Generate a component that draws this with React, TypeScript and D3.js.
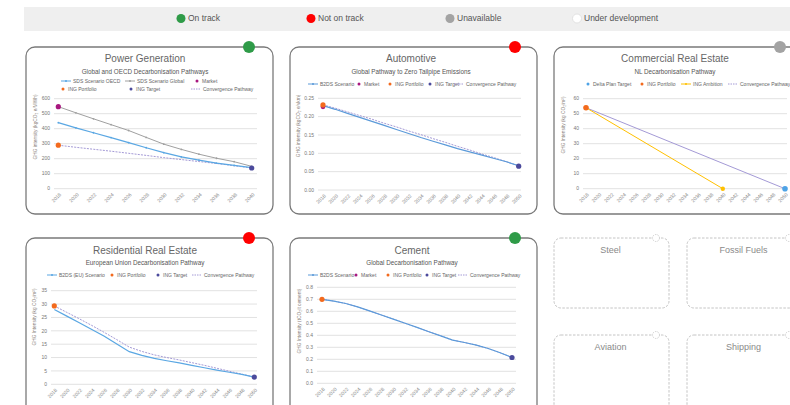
import React from 'react';
import * as d3 from 'd3';

const FONT = '"Liberation Sans Narrow", "Liberation Sans", Arial, sans-serif';

// ---------- Status legend ----------
const statusLabels = ['On track', 'Not on track', 'Unavailable', 'Under development'];
const statusColors = ['#2f9b48', '#ff0000', '#a3a3a3', '#ffffff'];

// ---------- Power Generation ----------
const powerYears = [2018, 2020, 2022, 2024, 2026, 2028, 2030, 2032, 2034, 2036, 2038, 2040];
const powerTicks = [0, 100, 200, 300, 400, 500, 600];
const powerSdsOecd = [440, 406, 373, 341, 307, 273, 240, 212, 191, 171, 155, 140];
const powerSdsGlobal = [547, 506, 466, 427, 388, 342, 297, 262, 230, 203, 180, 149];
const powerConvergence = [290, 276, 263, 250, 236, 222, 207, 194, 181, 168, 153, 138];
const powerMarket: [number, number][] = [[2018, 547]];
const powerPortfolio: [number, number][] = [[2018, 290]];
const powerTarget: [number, number][] = [[2040, 138]];

// ---------- Automotive ----------
const longYears = [2018, 2020, 2022, 2024, 2026, 2028, 2030, 2032, 2034, 2036, 2038, 2040, 2042, 2044, 2046, 2048, 2050];
const autoTicks = [0, 0.05, 0.1, 0.15, 0.2, 0.25];
const autoB2ds = [0.230, 0.220, 0.209, 0.198, 0.187, 0.176, 0.165, 0.154, 0.143, 0.133, 0.123, 0.113, 0.104, 0.095, 0.086, 0.077, 0.066];
const autoConvergence = [0.232, 0.223, 0.213, 0.203, 0.193, 0.182, 0.172, 0.161, 0.151, 0.140, 0.130, 0.119, 0.109, 0.098, 0.088, 0.077, 0.066];
const autoMarket: [number, number][] = [[2018, 0.227]];
const autoPortfolio: [number, number][] = [[2018, 0.232]];
const autoTarget: [number, number][] = [[2050, 0.065]];

// ---------- Commercial Real Estate ----------
const creTicks = [0, 10, 20, 30, 40, 50, 60];
const creDeltaPlan: [number, number][] = [[2050, 0]];
const crePortfolio: [number, number][] = [[2018, 54]];
const creAmbition: [number, number][] = [[2018, 54], [2040, 0]];
const creConvergence: [number, number][] = [[2018, 54], [2050, 0]];

// ---------- Residential Real Estate ----------
const resTicks = [0, 5, 10, 15, 20, 25, 30, 35];
const resB2ds = [28, 25.5, 23, 20.5, 18, 15.1, 12.2, 10.8, 9.7, 8.8, 8, 7.1, 6.2, 5.3, 4.5, 3.7, 2.7];
const resConvergence = [29.3, 26.9, 24.5, 22, 19.4, 16.7, 13.9, 12.3, 11, 10, 9.1, 8.1, 7.1, 6, 4.9, 3.8, 2.7];
const resPortfolio: [number, number][] = [[2018, 29.3]];
const resTarget: [number, number][] = [[2050, 2.7]];

// ---------- Cement ----------
const cemTicks = [0, 0.1, 0.2, 0.3, 0.4, 0.5, 0.6, 0.7, 0.8];
const cemB2ds = [0.70, 0.685, 0.665, 0.637, 0.603, 0.569, 0.535, 0.5, 0.466, 0.43, 0.395, 0.36, 0.34, 0.318, 0.29, 0.255, 0.215];
const cemConvergence = [0.70, 0.685, 0.665, 0.637, 0.603, 0.569, 0.535, 0.5, 0.466, 0.43, 0.395, 0.36, 0.34, 0.318, 0.29, 0.255, 0.215];
const cemPortfolio: [number, number][] = [[2018, 0.70]];
const cemTarget: [number, number][] = [[2050, 0.215]];

// ---------- Placeholder panels ----------
const pendingSectors = ['Steel', 'Fossil Fuels', 'Aviation', 'Shipping'];

// colours
const C = {
  oecd: '#5aa7e3',
  global: '#a0a0a0',
  market: '#a8177f',
  portfolio: '#f36a1d',
  target: '#4b4a9c',
  conv: '#a49ad6',
  b2ds: '#5b9ad9',
  ambition: '#ffc000',
  delta: '#4ea3e6',
};

const zip = (ys: number[], vs: number[]): [number, number][] => ys.map((y, i) => [y, vs[i]]);

type LineS = { data: [number, number][]; color: string; width?: number; dash?: string; dots?: boolean; dotEnds?: boolean };
type PointS = { data: [number, number][]; color: string; r: number };
type LegendItem = { kind: 'line' | 'lineDot' | 'dot' | 'dash'; color: string; label: string; x: number; y: number };

function Plot(p: {
  years: number[]; ticks: number[]; fmt: (v: number) => string; xr: [number, number]; yr: [number, number];
  grid: [number, number]; lines: LineS[]; points: PointS[]; axisTitle: string; axisX: number; axisY: number;
}) {
  const x = d3.scalePoint<number>().domain(p.years).range(p.xr);
  const yMax = p.ticks[p.ticks.length - 1];
  const y = d3.scaleLinear().domain([0, yMax]).range(p.yr);
  const line = d3.line<[number, number]>().x(d => x(d[0])!).y(d => y(d[1]));
  return (
    <g>
      {p.ticks.map(t => (
        <g key={t}>
          <line x1={p.grid[0]} x2={p.grid[1]} y1={y(t)} y2={y(t)} stroke="#e2e2e2" strokeWidth={1} />
          <text x={p.grid[0] - 4} y={y(t)} dy="0.35em" textAnchor="end" fontSize={5} fill="#777">{p.fmt(t)}</text>
        </g>
      ))}
      {p.years.map(yr => (
        <text key={yr} transform={`translate(${x(yr)! + 2},${p.yr[0] + 5}) rotate(-45)`} textAnchor="end" dy="0.35em" fontSize={5} fill="#888">{yr}</text>
      ))}
      <text transform={`translate(${p.axisX},${p.axisY}) rotate(-90)`} textAnchor="middle" fontSize={4.8} fill="#8a7f7a">{p.axisTitle}</text>
      {p.lines.map((l, i) => (
        <g key={i}>
          <path d={line(l.data)!} fill="none" stroke={l.color} strokeWidth={l.width ?? 1.2} strokeDasharray={l.dash} />
          {l.dots && l.data.map((d, j) => <circle key={j} cx={x(d[0])} cy={y(d[1])} r={0.9} fill={l.color} />)}
          {l.dotEnds && l.data.map((d, j) => <circle key={j} cx={x(d[0])} cy={y(d[1])} r={2.2} fill={l.color} />)}
        </g>
      ))}
      {p.points.map((pt, i) => pt.data.map((d, j) => (
        <circle key={`${i}-${j}`} cx={x(d[0])} cy={y(d[1])} r={pt.r} fill={pt.color} />
      )))}
    </g>
  );
}

function Legend({ items }: { items: LegendItem[] }) {
  return (
    <g>
      {items.map((it, i) => (
        <g key={i}>
          {(it.kind === 'line' || it.kind === 'lineDot') && (
            <>
              <line x1={it.x} x2={it.x + 10} y1={it.y} y2={it.y} stroke={it.color} strokeWidth={1} />
              {it.kind === 'lineDot' && <circle cx={it.x + 5} cy={it.y} r={1} fill={it.color} />}
            </>
          )}
          {it.kind === 'dash' && <line x1={it.x} x2={it.x + 10} y1={it.y} y2={it.y} stroke={it.color} strokeWidth={1} strokeDasharray="1.5,1" />}
          {it.kind === 'dot' && <circle cx={it.x} cy={it.y} r={1.5} fill={it.color} />}
          <text x={it.kind === 'dot' ? it.x + 5 : it.x + 12} y={it.y} dy="0.35em" fontSize={5} fill="#666">{it.label}</text>
        </g>
      ))}
    </g>
  );
}

function Panel(p: { x: number; y: number; w: number; h: number; title: string; tx: number; ty: number; subtitle: string; sy: number; status: string; cx: number; children?: React.ReactNode }) {
  return (
    <g>
      <rect x={p.x} y={p.y} width={p.w} height={p.h} rx={9} fill="#fff" stroke="#7a7a7a" strokeWidth={1.3} />
      <circle cx={p.cx} cy={p.y} r={6} fill={p.status} />
      <text x={p.tx} y={p.ty} dy="0.35em" textAnchor="middle" fontSize={10} fill="#666">{p.title}</text>
      <text x={p.tx} y={p.sy} dy="0.35em" textAnchor="middle" fontSize={6.3} fill="#555">{p.subtitle}</text>
      {p.children}
    </g>
  );
}

function Pending({ x, y, w, h, title }: { x: number; y: number; w: number; h: number; title: string }) {
  return (
    <g>
      <rect x={x} y={y} width={w} height={h} rx={7} fill="#fff" stroke="#bdbdbd" strokeWidth={0.9} strokeDasharray="2.5,1.5" />
      <circle cx={x + w - 13} cy={y} r={3.5} fill="#fff" stroke="#c4c4c4" strokeWidth={0.8} strokeDasharray="1.5,1" />
      <text x={x + w / 2 - 1} y={y + 12} dy="0.35em" textAnchor="middle" fontSize={9} fill="#8a8a8a">{title}</text>
    </g>
  );
}

const int = (v: number) => d3.format('d')(v);
const f2 = (v: number) => d3.format('.2f')(v);
const f1 = (v: number) => d3.format('.1f')(v);

export default function App() {
  const statusX = [181, 311, 450, 577];
  return (
    <svg width={790} height={405} style={{ position: 'absolute', left: 0, top: 0, fontFamily: FONT }}>
      <rect x={0} y={0} width={790} height={405} fill="#fff" />
      {/* status legend */}
      <rect x={24} y={7} width={766} height={24} fill="#efefef" />
      {statusLabels.map((s, i) => (
        <g key={s}>
          <circle cx={statusX[i]} cy={18.5} r={4.5} fill={statusColors[i]} stroke={i === 3 ? '#dcdcdc' : 'none'} strokeWidth={0.8} />
          <text x={statusX[i] + 7} y={18.5} dy="0.35em" fontSize={8.5} fill="#555">{s}</text>
        </g>
      ))}

      {/* Power Generation */}
      <Panel x={26} y={47} w={247} h={167} title="Power Generation" tx={145} ty={58} subtitle="Global and OECD Decarbonisation Pathways" sy={72} status={statusColors[0]} cx={249}>
        <Legend items={[
          { kind: 'lineDot', color: C.oecd, label: 'SDS Scenario OECD', x: 61, y: 81 },
          { kind: 'lineDot', color: C.global, label: 'SDS Scenario Global', x: 125, y: 81 },
          { kind: 'dot', color: C.market, label: 'Market', x: 197, y: 81 },
          { kind: 'dot', color: C.portfolio, label: 'ING Portfolio', x: 63, y: 89 },
          { kind: 'dot', color: C.target, label: 'ING Target', x: 131, y: 89 },
          { kind: 'dash', color: C.conv, label: 'Convergence Pathway', x: 191, y: 89 },
        ]} />
        <Plot years={powerYears} ticks={powerTicks} fmt={int} xr={[58.3, 251.7]} yr={[188.7, 98.7]} grid={[54, 257]}
          axisTitle="GHG intensity (kgCO₂ e/MWh)" axisX={37} axisY={127}
          lines={[
            { data: zip(powerYears, powerSdsGlobal), color: C.global, width: 1, dots: true },
            { data: zip(powerYears, powerConvergence), color: C.conv, width: 1, dash: '2,1.2' },
            { data: zip(powerYears, powerSdsOecd), color: C.oecd, width: 1.2, dots: true },
          ]}
          points={[
            { data: powerMarket, color: C.market, r: 2.6 },
            { data: powerPortfolio, color: C.portfolio, r: 2.6 },
            { data: powerTarget, color: C.target, r: 2.6 },
          ]} />
      </Panel>

      {/* Automotive */}
      <Panel x={290} y={47} w={247} h={167} title="Automotive" tx={411} ty={58} subtitle="Global Pathway  to Zero Tailpipe Emissions" sy={72} status={statusColors[1]} cx={515}>
        <Legend items={[
          { kind: 'lineDot', color: C.b2ds, label: 'B2DS Scenario', x: 308, y: 84 },
          { kind: 'dot', color: C.market, label: 'Market', x: 359, y: 84 },
          { kind: 'dot', color: C.portfolio, label: 'ING Portfolio', x: 390, y: 84 },
          { kind: 'dot', color: C.target, label: 'ING Target', x: 430, y: 84 },
          { kind: 'dash', color: C.conv, label: 'Convergence Pathway', x: 454, y: 84 },
        ]} />
        <Plot years={longYears} ticks={autoTicks} fmt={f2} xr={[323, 518.7]} yr={[190, 98.3]} grid={[318, 521]}
          axisTitle="GHG intensity (kgCO₂ e/vkm)" axisX={300} axisY={126}
          lines={[
            { data: zip(longYears, autoConvergence), color: C.conv, width: 1, dash: '2,1.2' },
            { data: zip(longYears, autoB2ds), color: C.b2ds, width: 1.2 },
          ]}
          points={[
            { data: autoMarket, color: C.market, r: 2.4 },
            { data: autoPortfolio, color: C.portfolio, r: 2.6 },
            { data: autoTarget, color: C.target, r: 2.6 },
          ]} />
      </Panel>

      {/* Commercial Real Estate */}
      <Panel x={554} y={47} w={250} h={167} title="Commercial Real Estate" tx={675} ty={58} subtitle="NL Decarbonisation Pathway" sy={72} status={statusColors[2]} cx={780}>
        <Legend items={[
          { kind: 'dot', color: C.delta, label: 'Delta Plan Target', x: 588, y: 84 },
          { kind: 'dot', color: C.portfolio, label: 'ING Portfolio', x: 642, y: 84 },
          { kind: 'lineDot', color: C.ambition, label: 'ING Ambition', x: 681, y: 84 },
          { kind: 'dash', color: C.conv, label: 'Convergence Pathway', x: 728, y: 84 },
        ]} />
        <Plot years={longYears} ticks={creTicks} fmt={int} xr={[586, 785]} yr={[188.7, 98.7]} grid={[583, 787]}
          axisTitle="GHG Intensity (kg CO₂/m²)" axisX={565} axisY={125}
          lines={[
            { data: creConvergence, color: C.conv, width: 1 },
            { data: creAmbition, color: C.ambition, width: 1, dotEnds: true },
          ]}
          points={[
            { data: crePortfolio, color: C.portfolio, r: 2.8 },
            { data: creDeltaPlan, color: C.delta, r: 2.8 },
          ]} />
      </Panel>

      {/* Residential Real Estate */}
      <Panel x={26} y={238} w={247} h={190} title="Residential Real Estate" tx={145} ty={250} subtitle="European Union Decarbonisation Pathway" sy={263} status={statusColors[1]} cx={249}>
        <Legend items={[
          { kind: 'lineDot', color: C.oecd, label: 'B2DS (EU) Scenario', x: 47, y: 275 },
          { kind: 'dot', color: C.portfolio, label: 'ING Portfolio', x: 112, y: 275 },
          { kind: 'dot', color: C.target, label: 'ING Target', x: 158, y: 275 },
          { kind: 'dash', color: C.conv, label: 'Convergence Pathway', x: 192, y: 275 },
        ]} />
        <Plot years={longYears} ticks={resTicks} fmt={int} xr={[54.3, 254.3]} yr={[384.3, 290.7]} grid={[51, 257]}
          axisTitle="GHG Intensity (kg CO₂/m²)" axisX={36} axisY={317}
          lines={[
            { data: zip(longYears, resConvergence), color: C.conv, width: 1, dash: '2,1.2' },
            { data: zip(longYears, resB2ds), color: C.oecd, width: 1.2 },
          ]}
          points={[
            { data: resPortfolio, color: C.portfolio, r: 2.6 },
            { data: resTarget, color: C.target, r: 2.6 },
          ]} />
      </Panel>

      {/* Cement */}
      <Panel x={290} y={238} w={247} h={190} title="Cement" tx={412} ty={250} subtitle="Global Decarbonisation Pathway" sy={263} status={statusColors[0]} cx={515}>
        <Legend items={[
          { kind: 'lineDot', color: C.b2ds, label: 'B2DS Scenario', x: 308, y: 275 },
          { kind: 'dot', color: C.market, label: 'Market', x: 356, y: 275 },
          { kind: 'dot', color: C.portfolio, label: 'ING Portfolio', x: 388, y: 275 },
          { kind: 'dot', color: C.target, label: 'ING Target', x: 427, y: 275 },
          { kind: 'dash', color: C.conv, label: 'Convergence Pathway', x: 458, y: 275 },
        ]} />
        <Plot years={longYears} ticks={cemTicks} fmt={f1} xr={[322, 512]} yr={[383.3, 287.3]} grid={[317, 516]}
          axisTitle="GHG Intensity (tCO₂/t cement)" axisX={301} axisY={321}
          lines={[
            { data: zip(longYears, cemConvergence), color: C.conv, width: 1, dash: '2,1.2' },
            { data: zip(longYears, cemB2ds), color: C.b2ds, width: 1.2 },
          ]}
          points={[
            { data: cemPortfolio, color: C.portfolio, r: 2.6 },
            { data: cemTarget, color: C.target, r: 2.6 },
          ]} />
      </Panel>

      {/* placeholders */}
      <Pending x={554} y={238} w={115} h={70} title={pendingSectors[0]} />
      <Pending x={687} y={238} w={115} h={70} title={pendingSectors[1]} />
      <Pending x={554} y={335} w={115} h={80} title={pendingSectors[2]} />
      <Pending x={687} y={335} w={115} h={80} title={pendingSectors[3]} />
    </svg>
  );
}
